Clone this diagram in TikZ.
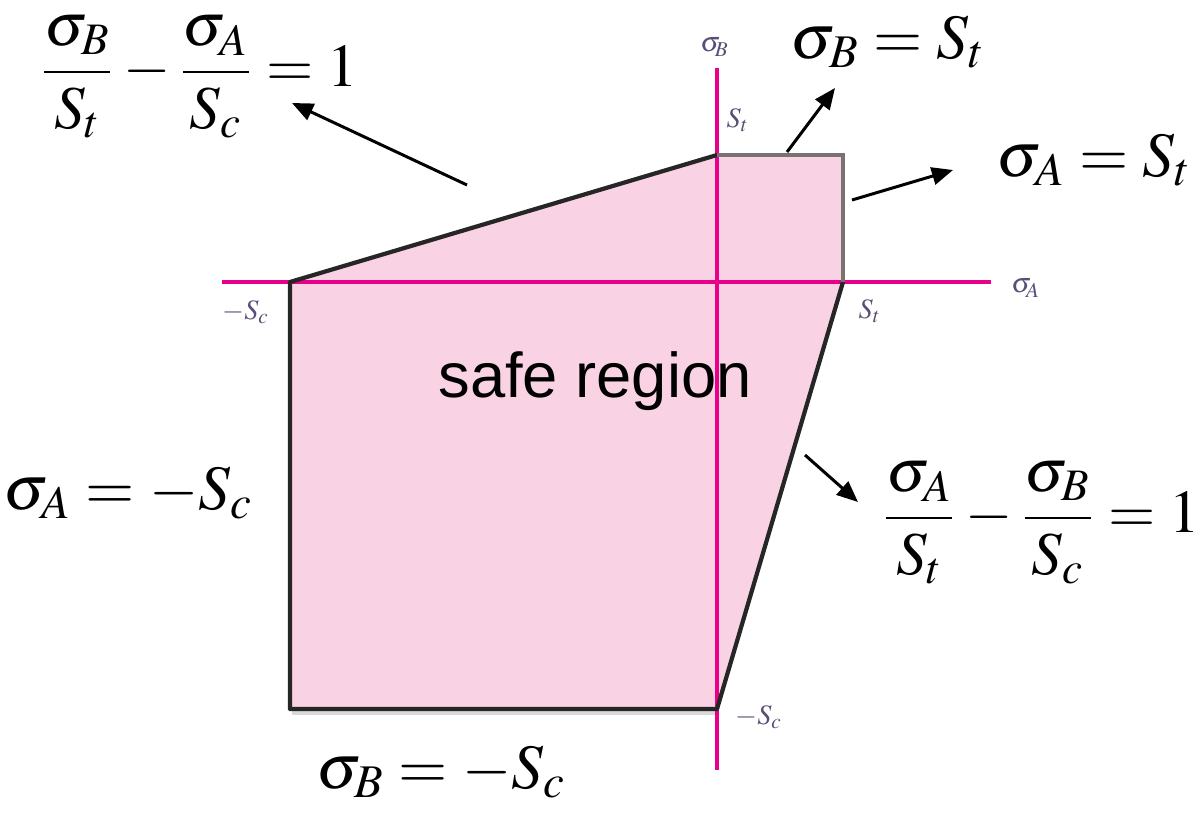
\documentclass[tikz,border=0pt]{standalone}
\usepackage{mathptmx}
\usepackage{fontspec}
\setsansfont{Liberation Sans}
\usetikzlibrary{arrows.meta}
\definecolor{axiscol}{HTML}{E8008A}
\definecolor{fillcol}{HTML}{F9D3E3}
\definecolor{edgecol}{HTML}{262626}
\definecolor{edgegray}{HTML}{7A7272}
\definecolor{tickcol}{HTML}{5A4E78}
\tikzset{
  axis/.style={draw=axiscol, line width=1.2pt},
  edge/.style={draw=edgecol, line width=1.2pt, line cap=round, line join=round},
  edgelight/.style={draw=edgegray, line width=1.2pt, line join=miter},
  pointer/.style={draw=black, line width=0.85pt, -{Triangle[length=6pt,width=5pt]}},
  eq/.style={inner sep=0pt, font=\fontsize{18}{22}\selectfont},
  fraceq/.style={inner sep=0pt, font=\fontsize{17.3}{21}\selectfont},
  tick/.style={inner sep=0pt, text=tickcol, font=\fontsize{8}{9}\selectfont},
}
\begin{document}
\begin{tikzpicture}[x=0.01cm, y=-0.01cm]
\useasboundingbox (0,0) rectangle (1200,812);
% region
\coordinate (p1) at (290,282);
\coordinate (p2) at (717,155);
\coordinate (p3) at (843,155);
\coordinate (p4) at (843,282);
\coordinate (p5) at (717,709);
\coordinate (p6) at (290,709);
\fill[fillcol] (p1) -- (p2) -- (p3) -- (p4) -- (p5) -- (p6) -- cycle;
\draw[black!15, line width=1.2pt] (292,713) -- (719,713);
% axes
\coordinate (xa0) at (222,282);
\coordinate (xa1) at (991,282);
\coordinate (ya0) at (717,68);
\coordinate (ya1) at (717,770);
\path[axis] (xa0) -- (xa1);
\path[axis] (ya0) -- (ya1);
% edges
\path[edge] (p4) -- (p5) -- (p6) -- (p1) -- (p2);
\path[edgelight] (p2) -- (p3) -- (p4);
% axis labels
\node[tick] (lsa) at (1026,288) {$\sigma_{\!A}$};
\node[tick] (lsb) at (715,47) {$\sigma_{\!B}$};
\node[tick] (t1) at (738,120) {$S_t$};
\node[tick] (t2) at (870,311) {$S_t$};
\node[tick] (c1) at (246,312) {$-S_c$};
\node[tick] (c2) at (759,717) {$-S_c$};
% region label
\node[inner sep=0pt, font=\sffamily\fontsize{18}{22}\selectfont] (safe) at (595,381) {safe region};
% equations
\node[fraceq] (e1) at (199,77) {$\displaystyle \frac{\sigma_B}{S_t}-\frac{\sigma_A}{S_c}=1$};
\node[eq] (e2) at (888,42) {$\sigma_B = S_t$};
\node[eq] (e3) at (1094,160) {$\sigma_A = S_t$};
\node[eq] (e4) at (128,493) {$\sigma_A = -S_c$};
\node[fraceq] (e5) at (1041,523) {$\displaystyle \frac{\sigma_A}{S_t}-\frac{\sigma_B}{S_c}=1$};
\node[eq] (e6) at (441,772) {$\sigma_B = -S_c$};
% pointers
\coordinate (a1s) at (467,185); \coordinate (a1e) at (292,103);
\coordinate (a2s) at (787,152); \coordinate (a2e) at (835,88);
\coordinate (a3s) at (852,200); \coordinate (a3e) at (953,170);
\coordinate (a4s) at (805,455); \coordinate (a4e) at (858,502);
\path[pointer] (a1s) -- (a1e);
\path[pointer] (a2s) -- (a2e);
\path[pointer] (a3s) -- (a3e);
\path[pointer] (a4s) -- (a4e);
\end{tikzpicture}
\end{document}
